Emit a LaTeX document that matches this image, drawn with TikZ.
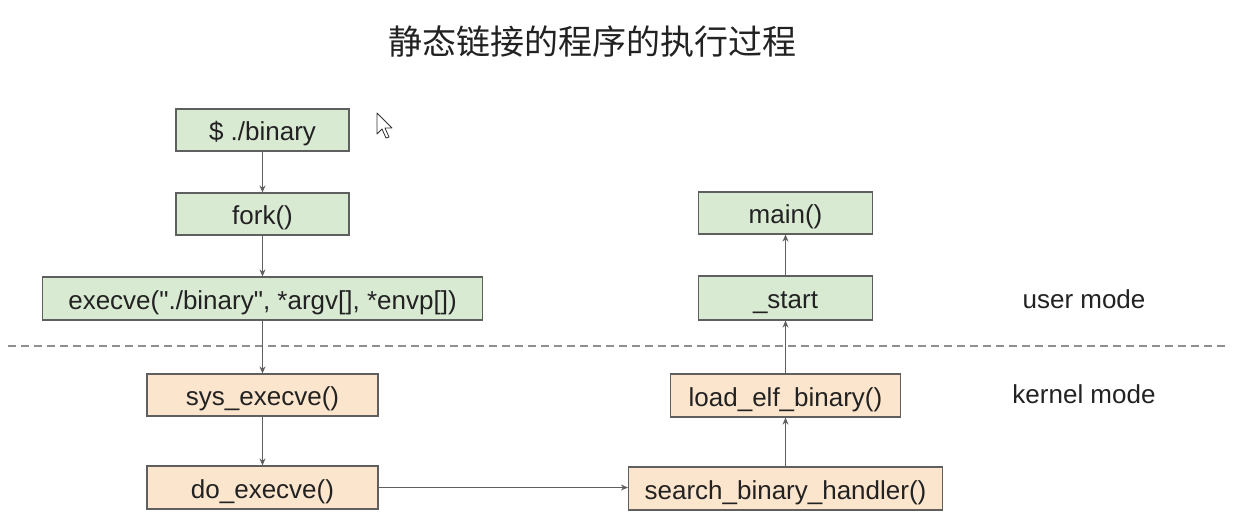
\documentclass[tikz,border=0pt]{standalone}
\usepackage{fontspec}
\setmainfont{Liberation Sans}[Ligatures=TeXOff]
\newfontfamily\cjk{Noto Sans CJK SC}
\usetikzlibrary{arrows.meta}
\definecolor{ugreen}{HTML}{D9EAD3}
\definecolor{korange}{HTML}{FCE5CD}
\definecolor{edgec}{HTML}{5F5F5F}
\definecolor{txt}{HTML}{222222}
\tikzset{
  box/.style={draw=edgec, line width=1.2pt, inner sep=0pt, text=txt, font=\fontsize{26}{30}\selectfont, text height=25pt, text depth=4pt},
  ubox/.style={box, fill=ugreen},
  kbox/.style={box, fill=korange},
  conn/.style={draw=edgec, line width=1.2pt, -{Stealth[length=7pt,width=6pt]}},
  lbl/.style={text=txt, font=\fontsize{26}{30}\selectfont, inner sep=0pt, text height=25pt, text depth=4pt},
}
\begin{document}
\begin{tikzpicture}[x=1pt,y=-1pt]
\useasboundingbox[fill=white] (0,0) rectangle (1238,528);
\node[text=txt, font=\cjk\fontsize{34}{38}\selectfont, inner sep=0pt] (title) at (592,42) {静态链接的程序的执行过程};
% user mode boxes
\node[ubox, minimum width=173pt, minimum height=42pt] (bin) at (262.5,130) {\$ ./binary};
\node[ubox, minimum width=173pt, minimum height=42pt] (fork) at (262.5,214) {fork()};
\node[ubox, minimum width=440pt, minimum height=43pt] (exec) at (262.5,298.5) {execve("./binary", *argv[], *envp[])};
\node[ubox, minimum width=174pt, minimum height=42pt] (main) at (785.5,213) {main()};
\node[ubox, minimum width=174pt, minimum height=44pt] (start) at (785.5,298) {\_start};
% kernel mode boxes
\node[kbox, minimum width=231pt, minimum height=42pt] (sys) at (262.5,395) {sys\_execve()};
\node[kbox, minimum width=231pt, minimum height=43pt] (do) at (262.5,487.5) {do\_execve()};
\node[kbox, minimum width=314pt, minimum height=43pt] (search) at (785.5,488.5) {search\_binary\_handler()};
\node[kbox, minimum width=230pt, minimum height=43pt] (load) at (785.5,395.5) {load\_elf\_binary()};
% labels
\node[lbl] (umode) at (1084,298) {user mode};
\node[lbl] (kmode) at (1084,393) {kernel mode};
% separator
\coordinate (sepL) at (8,346);
\coordinate (sepR) at (1228,346);
\draw[draw=edgec!70, line width=1.2pt, dash pattern=on 8pt off 5pt] (sepL) -- (sepR);
% connectors
\draw[conn] (bin) -- (fork);
\draw[conn] (fork) -- (exec);
\draw[conn] (exec.south) -- (sys.north);
\draw[conn] (sys) -- (do);
\draw[conn] (do.east) -- (do.east -| search.west);
\draw[conn] (search.north) -- (load.south);
\draw[conn] (load.north) -- (start.south);
\draw[conn] (start) -- (main);
% cursor
\draw[fill=white, draw=black!80, line width=0.8pt, line join=round]
  (377,113) -- (377,134) -- (382,129) -- (386,138) -- (389,137) -- (385,128) -- (392,128) -- cycle;
\end{tikzpicture}
\end{document}
